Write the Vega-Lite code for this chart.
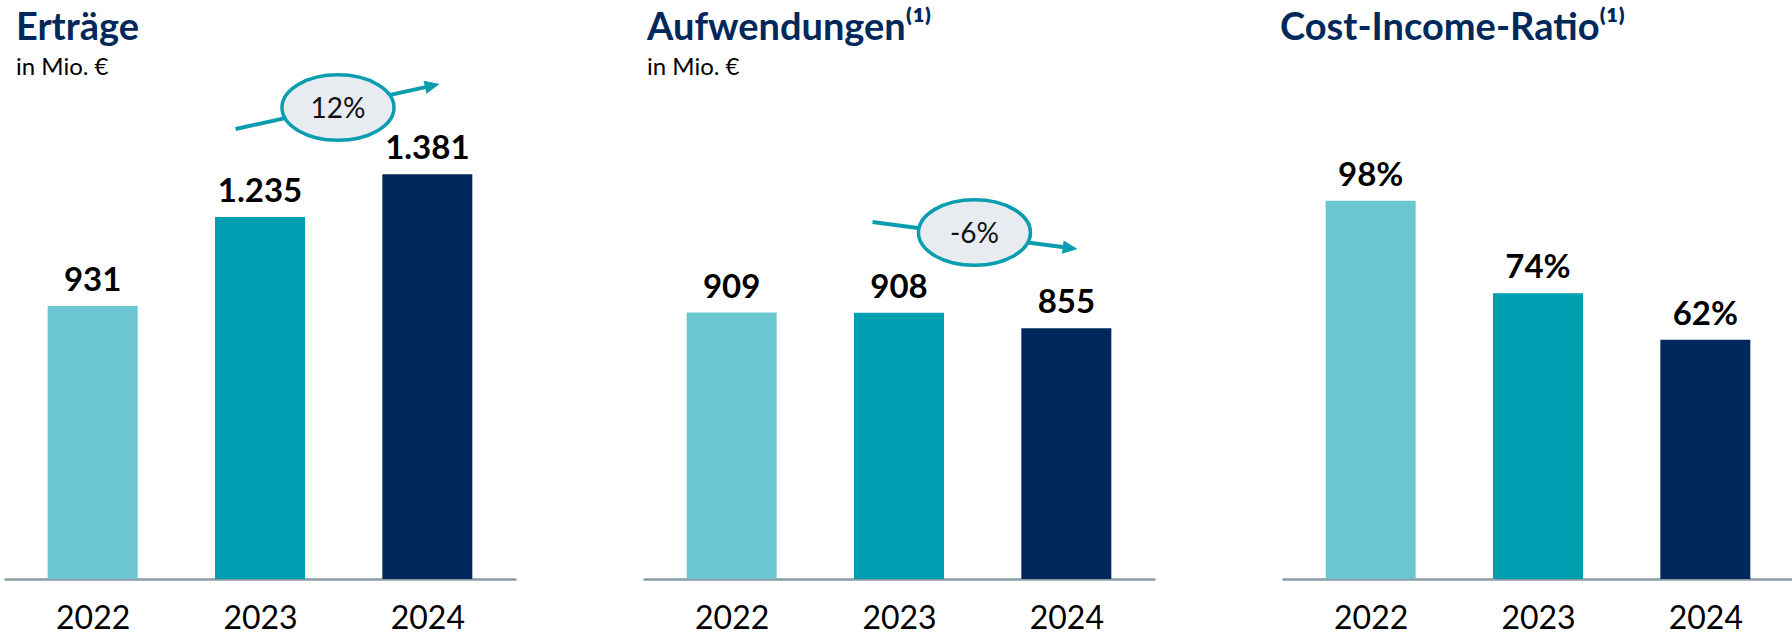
{
  "$schema": "https://vega.github.io/schema/vega-lite/v6.json",
  "padding": {"left": 4, "top": 0, "right": 0, "bottom": 0},
  "spacing": 127,
  "bounds": "flush",
  "config": {
    "view": {"stroke": null},
    "font": "Lato",
    "locale": {"number": {"decimal": ",", "thousands": ".", "grouping": [3], "currency": ["", " €"]}}
  },
  "datasets": {
    "ertraege": [
      {"year": 2022, "value": 931},
      {"year": 2023, "value": 1235},
      {"year": 2024, "value": 1381}
    ],
    "aufwendungen": [
      {"year": 2022, "value": 909},
      {"year": 2023, "value": 908},
      {"year": 2024, "value": 855}
    ],
    "cir": [
      {"year": 2022, "value": 0.98},
      {"year": 2023, "value": 0.74},
      {"year": 2024, "value": 0.62}
    ],
    "trend1_line": [
      {"year": 2022.854, "value": 1534.8},
      {"year": 2024.03, "value": 1682.8}
    ],
    "trend1_head": [{"year": 2024.03, "value": 1682.8}],
    "trend1_badge": [{"year": 2023.466, "value": 1608.1, "change": "12%"}],
    "trend2_line": [
      {"year": 2022.842, "value": 1217.6},
      {"year": 2024.023, "value": 1128.9}
    ],
    "trend2_head": [{"year": 2024.023, "value": 1128.9}],
    "trend2_badge": [{"year": 2023.451, "value": 1181.8, "change": "-6%"}]
  },
  "hconcat": [
    {
      "width": 512,
      "height": 579,
      "title": {"text": "Erträge", "subtitle": "in Mio. €", "anchor": "start", "frame": "group", "orient": "top", "offset": -80, "dx": 12, "font": "Lato", "fontSize": 38, "fontWeight": "bold", "color": "#00285A", "subtitleFont": "Lato", "subtitleFontSize": 24, "subtitleColor": "#000000", "subtitlePadding": 8},
      "encoding": {
        "x": {"field": "year", "type": "quantitative", "scale": {"domain": [2021.5, 2024.5], "nice": false, "zero": false},
          "axis": {"values": [2022, 2023, 2024], "format": "d", "title": null, "grid": false, "ticks": false, "tickSize": 0, "labelFontSize": 32, "labelFont": "Lato", "labelColor": "#000000", "labelPadding": 24, "labelFlush": false, "domainColor": "#8A9BA5", "domainWidth": 2.5}},
        "y": {"field": "value", "type": "quantitative", "scale": {"domain": [0, 1975], "nice": false}, "axis": null}
      },
      "layer": [
        {"data": {"name": "ertraege"}, "mark": {"type": "bar", "size": 90},
          "encoding": {"color": {"field": "year", "type": "ordinal", "scale": {"domain": [2022, 2023, 2024], "range": ["#6CC6D1", "#009EB1", "#00285A"]}, "legend": null}}},
        {"data": {"name": "ertraege"}, "mark": {"type": "text", "baseline": "alphabetic", "dy": -15, "fontSize": 33, "fontWeight": "bold", "font": "Lato", "color": "#000000"},
          "encoding": {"text": {"field": "value", "type": "quantitative", "format": ",d"}}},
        {"data": {"name": "trend1_line"}, "mark": {"type": "line", "color": "#0A9DB0", "strokeWidth": 4}},
        {"data": {"name": "trend1_head"}, "mark": {"type": "point", "shape": "M-1,-0.9L1,0L-1,0.9Z", "size": 225, "angle": -12.2, "filled": true, "color": "#0A9DB0", "opacity": 1}},
        {"data": {"name": "trend1_badge"}, "mark": {"type": "point", "shape": "M-1,0C-1,-0.323,-0.552,-0.585,0,-0.585C0.552,-0.585,1,-0.323,1,0C1,0.323,0.552,0.585,0,0.585C-0.552,0.585,-1,0.323,-1,0Z", "size": 12544, "filled": true, "fill": "#E8ECF1", "stroke": "#0A9DB0", "strokeWidth": 3.5, "fillOpacity": 1, "strokeOpacity": 1, "opacity": 1}},
        {"data": {"name": "trend1_badge"}, "mark": {"type": "text", "baseline": "middle", "fontSize": 28, "font": "Lato", "color": "#111111", "dy": 2},
          "encoding": {"text": {"field": "change", "type": "nominal"}}}
      ]
    },
    {
      "width": 512,
      "height": 579,
      "title": {"text": "Aufwendungen⁽¹⁾", "subtitle": "in Mio. €", "anchor": "start", "frame": "group", "orient": "top", "offset": -80, "dx": 4, "font": "Lato", "fontSize": 38, "fontWeight": "bold", "color": "#00285A", "subtitleFont": "Lato", "subtitleFontSize": 24, "subtitleColor": "#000000", "subtitlePadding": 8},
      "encoding": {
        "x": {"field": "year", "type": "quantitative", "scale": {"domain": [2021.5, 2024.5], "nice": false, "zero": false},
          "axis": {"values": [2022, 2023, 2024], "format": "d", "title": null, "grid": false, "ticks": false, "tickSize": 0, "labelFontSize": 32, "labelFont": "Lato", "labelColor": "#000000", "labelPadding": 24, "labelFlush": false, "domainColor": "#8A9BA5", "domainWidth": 2.5}},
        "y": {"field": "value", "type": "quantitative", "scale": {"domain": [0, 1975], "nice": false}, "axis": null}
      },
      "layer": [
        {"data": {"name": "aufwendungen"}, "mark": {"type": "bar", "size": 90},
          "encoding": {"color": {"field": "year", "type": "ordinal", "scale": {"domain": [2022, 2023, 2024], "range": ["#6CC6D1", "#009EB1", "#00285A"]}, "legend": null}}},
        {"data": {"name": "aufwendungen"}, "mark": {"type": "text", "baseline": "alphabetic", "dy": -15, "fontSize": 33, "fontWeight": "bold", "font": "Lato", "color": "#000000"},
          "encoding": {"text": {"field": "value", "type": "quantitative", "format": ",d"}}},
        {"data": {"name": "trend2_line"}, "mark": {"type": "line", "color": "#0A9DB0", "strokeWidth": 4}},
        {"data": {"name": "trend2_head"}, "mark": {"type": "point", "shape": "M-1,-0.9L1,0L-1,0.9Z", "size": 225, "angle": 7.4, "filled": true, "color": "#0A9DB0", "opacity": 1}},
        {"data": {"name": "trend2_badge"}, "mark": {"type": "point", "shape": "M-1,0C-1,-0.323,-0.552,-0.585,0,-0.585C0.552,-0.585,1,-0.323,1,0C1,0.323,0.552,0.585,0,0.585C-0.552,0.585,-1,0.323,-1,0Z", "size": 12544, "filled": true, "fill": "#E8ECF1", "stroke": "#0A9DB0", "strokeWidth": 3.5, "fillOpacity": 1, "strokeOpacity": 1, "opacity": 1}},
        {"data": {"name": "trend2_badge"}, "mark": {"type": "text", "baseline": "middle", "fontSize": 28, "font": "Lato", "color": "#111111", "dy": 2},
          "encoding": {"text": {"field": "change", "type": "nominal"}}}
      ]
    },
    {
      "width": 512,
      "height": 579,
      "title": {"text": "Cost-Income-Ratio⁽¹⁾", "anchor": "start", "frame": "group", "orient": "top", "offset": -48, "dx": -2, "font": "Lato", "fontSize": 38, "fontWeight": "bold", "color": "#00285A"},
      "encoding": {
        "x": {"field": "year", "type": "quantitative", "scale": {"domain": [2021.5, 2024.5], "nice": false, "zero": false},
          "axis": {"values": [2022, 2023, 2024], "format": "d", "title": null, "grid": false, "ticks": false, "tickSize": 0, "labelFontSize": 32, "labelFont": "Lato", "labelColor": "#000000", "labelPadding": 24, "labelFlush": false, "domainColor": "#8A9BA5", "domainWidth": 2.5}},
        "y": {"field": "value", "type": "quantitative", "scale": {"domain": [0, 1.5], "nice": false}, "axis": null}
      },
      "layer": [
        {"data": {"name": "cir"}, "mark": {"type": "bar", "size": 90},
          "encoding": {"color": {"field": "year", "type": "ordinal", "scale": {"domain": [2022, 2023, 2024], "range": ["#6CC6D1", "#009EB1", "#00285A"]}, "legend": null}}},
        {"data": {"name": "cir"}, "mark": {"type": "text", "baseline": "alphabetic", "dy": -15, "fontSize": 33, "fontWeight": "bold", "font": "Lato", "color": "#000000"},
          "encoding": {"text": {"field": "value", "type": "quantitative", "format": ".0%"}}}
      ]
    }
  ]
}
